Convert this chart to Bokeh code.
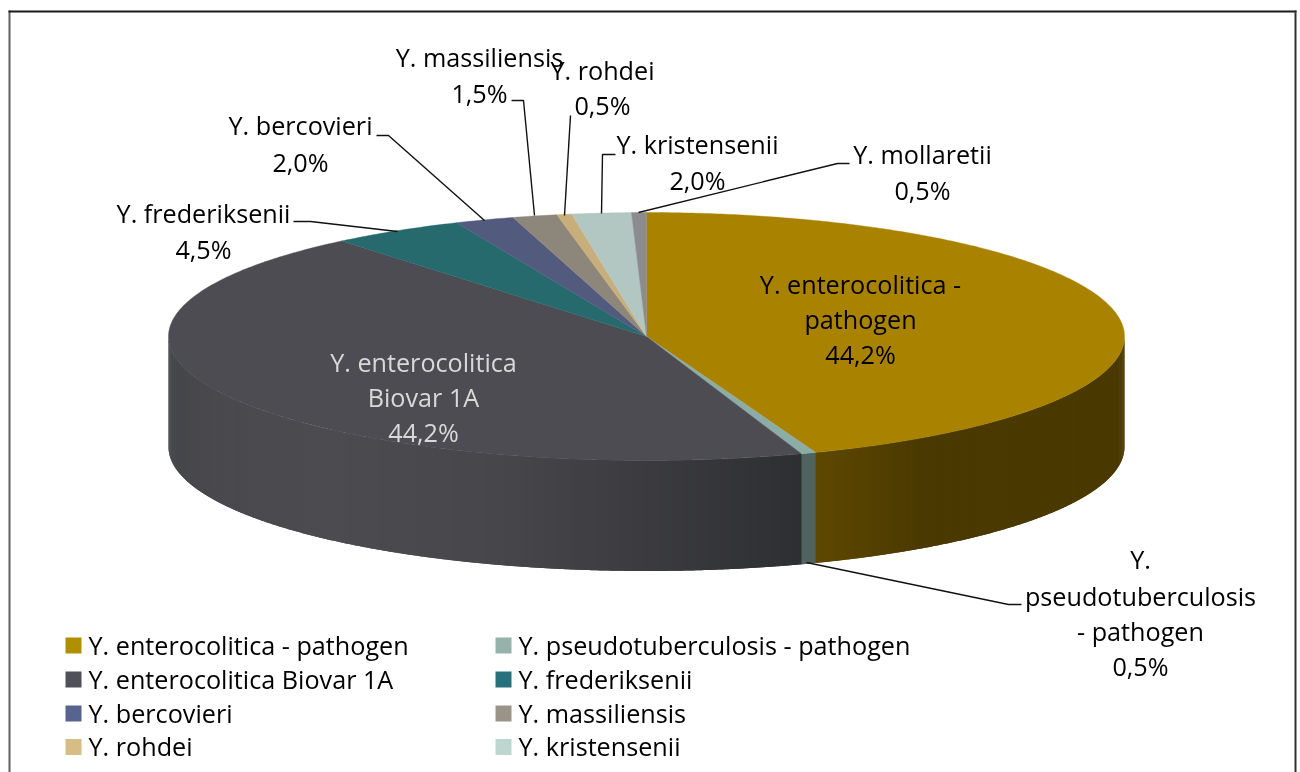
import numpy as np
from bokeh.embed import file_html
from bokeh.models import Range1d
from bokeh.plotting import figure
from bokeh.resources import INLINE
from bokeh.core.properties import value

categories = ["Y. enterocolitica - pathogen", "Y. pseudotuberculosis - pathogen",
              "Y. enterocolitica Biovar 1A", "Y. frederiksenii", "Y. bercovieri",
              "Y. massiliensis", "Y. rohdei", "Y. kristensenii", "Y. mollaretii"]
shares = [44.2, 0.5, 44.2, 4.5, 2.0, 1.5, 0.5, 2.0, 0.5]
percent_labels = ["44,2%", "0,5%", "44,2%", "4,5%", "2,0%", "1,5%", "0,5%", "2,0%", "0,5%"]
top_colors = ["#A98300", "#8BADA5", "#4D4C52", "#266A6E", "#525B7E", "#8D867B", "#C8AE7A", "#B2C7C1", "#8C8C8E"]
legend_colors = ["#B08F00", "#93B3AB", "#505158", "#27717A", "#586490", "#9A9388", "#D6BD84", "#BDD6CF"]
FONT = "Open Sans"
FS_LABEL = "25.2px"
FS_LEGEND = "25.2px"

CX, CY, RX, RY, DEPTH = 646, 336, 478, 124, 110.5

p = figure(width=1300, height=772, output_backend="svg", toolbar_location=None,
           x_range=Range1d(0, 1300), y_range=Range1d(772, 0),
           min_border=0, outline_line_color=None, background_fill_color="white")
p.axis.visible = False
p.grid.visible = False
p.styles = {"position": "fixed", "left": "0px", "top": "0px"}


def pt(deg):
    r = np.radians(deg)
    return CX + RX * np.sin(r), CY - RY * np.cos(r)


def lerp_hex(c0, c1, t):
    a = [int(c0[i:i + 2], 16) for i in (1, 3, 5)]
    b = [int(c1[i:i + 2], 16) for i in (1, 3, 5)]
    return "#%02x%02x%02x" % tuple(int(round(u + (v - u) * t)) for u, v in zip(a, b))


# slice angles from the shares, clockwise from 12 o'clock
edges = np.concatenate([[0.0], np.cumsum(shares)]) * 360.0 / sum(shares)


def side_color(i, x):
    if i == 0:
        t = min(max((x - 815) / 110.0, 0), 1)
        return lerp_hex("#5E4800", "#4A3900", t)
    if i == 1:
        return "#50635F"
    stops_x = [168, 220, 330, 500, 650, 800]
    stops = ["#45464A", "#4A4A4E", "#4B4B50", "#47474B", "#3B3B3F", "#2E2F32"]
    k = int(np.searchsorted(stops_x, x, side="right")) - 1
    k = min(max(k, 0), len(stops) - 2)
    t = (x - stops_x[k]) / (stops_x[k + 1] - stops_x[k])
    return lerp_hex(stops[k], stops[k + 1], min(max(t, 0), 1))


# visible wall: strips overlap the next one, which paints over the overlap
xs, ys, cols = [], [], []
step = 0.5
for i in range(len(shares)):
    a0, a1 = max(edges[i], 90), min(edges[i + 1], 270)
    if a1 <= a0:
        continue
    n = max(int((a1 - a0) / step), 1)
    grid = np.linspace(a0, a1, n + 1)
    for u, v in zip(grid[:-1], grid[1:]):
        end = min(v + step, 270)
        fine = np.linspace(u, end, 4)
        fx, fy = pt(fine)
        xs.append(list(fx) + list(fx[::-1]))
        ys.append(list(fy) + list(fy[::-1] + DEPTH))
        mx = (pt(u)[0] + pt(v)[0]) / 2
        cols.append(side_color(i, mx))
p.patches(xs, ys, fill_color=cols, line_color=None)

# top face
xs, ys = [], []
for i in range(len(shares)):
    grid = np.linspace(edges[i], edges[i + 1], max(int(edges[i + 1] - edges[i]) * 2, 4))
    ax, ay = pt(grid)
    xs.append([CX] + list(ax))
    ys.append([CY] + list(ay))
p.patches(xs, ys, fill_color=top_colors, line_color=top_colors, line_width=0.4)

# leader lines
leaders = [
    ([293, 310, 397], [221, 221, 231]),
    ([376, 388, 484], [135, 135, 220]),
    ([511, 523, 534], [100, 100, 215]),
    ([570, 564], [115, 215]),
    ([615, 602, 601], [154, 154, 213]),
    ([849, 837, 638], [163, 163, 212]),
    ([1021, 1008, 806], [604, 604, 562]),
]
for lx, ly in leaders:
    p.line(lx, ly, line_color="#111111", line_width=1.4)

# data labels
label_lines = [
    (categories[0].split(" - ")[0] + " -", 860, 283, "#000000"), ("pathogen", 860, 318, "#000000"),
    (percent_labels[0], 860, 353, "#000000"),
    ("Y. enterocolitica", 423, 361, "#D9D9D9"), ("Biovar 1A", 423, 396, "#D9D9D9"),
    (percent_labels[2], 423, 431, "#D9D9D9"),
    (categories[3], 203, 212, "#000000"), (percent_labels[3], 203, 248, "#000000"),
    (categories[4], 300, 124, "#000000"), (percent_labels[4], 300, 161, "#000000"),
    (categories[5], 479, 56, "#000000"), (percent_labels[5], 479, 92, "#000000"),
    (categories[6], 602, 69, "#000000"), (percent_labels[6], 602, 104, "#000000"),
    (categories[7], 697, 143, "#000000"), (percent_labels[7], 697, 179, "#000000"),
    (categories[8], 922, 153, "#000000"), (percent_labels[8], 922, 189, "#000000"),
    ("Y.", 1140, 558, "#000000"), ("pseudotuberculosis", 1140, 595, "#000000"),
    ("- pathogen", 1140, 630, "#000000"), (percent_labels[1], 1140, 665, "#000000"),
]
p.text([r[1] for r in label_lines], [r[2] for r in label_lines], text=[r[0] for r in label_lines],
       text_color=[r[3] for r in label_lines], text_font=value(FONT), text_font_size=FS_LABEL,
       text_align="center", text_baseline="middle")

# legend
lx = [65, 495]
ly = [645, 679, 713, 746.5]
for idx in range(8):
    cx = lx[idx % 2]
    cy = ly[idx // 2]
    p.quad(left=[cx], right=[cx + 16], top=[cy - 8], bottom=[cy + 8], fill_color=legend_colors[idx], line_color=None)
    p.text([cx + 23], [cy - 1], text=[categories[idx]], text_color="#000000", text_font=value(FONT),
           text_font_size=FS_LEGEND, text_align="left", text_baseline="middle")

# frame
p.line([9, 9], [10, 772], line_color="#606060", line_width=2)
p.line([8, 1296], [11, 11], line_color="#1a1a1a", line_width=2)
p.line([1295, 1295], [10, 772], line_color="#303030", line_width=2)

open("out.html", "w").write(file_html(p, INLINE))
